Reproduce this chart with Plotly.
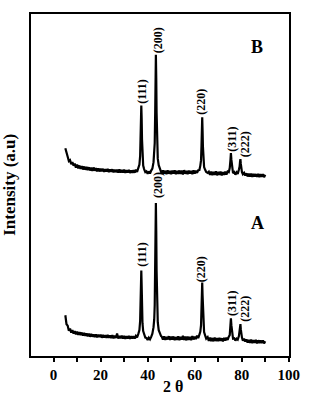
import plotly.graph_objects as go

# 2-theta grid (degrees)
two_theta = [
    5.0, 5.5, 6.0, 6.5, 7.0, 7.5, 8.0, 8.5, 9.0, 9.5,
    10.0, 10.5, 11.0, 11.5, 12.0, 12.5, 13.0, 13.5, 14.0, 14.5,
    15.0, 15.5, 16.0, 16.5, 17.0, 17.5, 18.0, 18.5, 19.0, 19.5,
    20.0, 20.5, 21.0, 21.5, 22.0, 22.5, 23.0, 23.5, 24.0, 24.5,
    25.0, 25.5, 26.0, 26.5, 27.0, 27.5, 28.0, 28.5, 29.0, 29.5,
    30.0, 30.5, 31.0, 31.5, 32.0, 32.5, 33.0, 33.5, 34.0, 34.5,
    35.0, 35.5,
    36.0, 36.5, 36.8, 37.0, 37.15, 37.3, 37.45, 37.6, 37.8, 38.1,
    38.5, 39.0, 39.5, 40.0, 40.5, 41.0, 41.5, 42.0, 42.5, 42.8,
    43.0, 43.2, 43.35, 43.5, 43.65, 43.8, 44.0, 44.3, 44.7, 45.2, 45.7,
    46.0, 46.5, 47.0, 47.5, 48.0, 48.5, 49.0, 49.5, 50.0, 50.5,
    51.0, 51.5, 52.0, 52.5, 53.0, 53.5, 54.0, 54.5, 55.0, 55.5,
    56.0, 56.5, 57.0, 57.5, 58.0, 58.5, 59.0, 59.5, 60.0, 60.5, 61.0,
    61.5, 62.0, 62.4, 62.7, 62.9, 63.05, 63.2, 63.35, 63.5, 63.7,
    64.0, 64.4, 64.9, 65.5,
    66.0, 66.5, 67.0, 67.5, 68.0, 68.5, 69.0, 69.5, 70.0, 70.5,
    71.0, 71.5, 72.0, 72.5, 73.0, 73.5, 74.0,
    74.5, 74.9, 75.2, 75.4, 75.6, 75.9, 76.3, 76.8, 77.3, 77.8,
    78.3, 78.8, 79.1, 79.3, 79.45, 79.6, 79.8, 80.1, 80.5, 81.0, 81.5,
    82.0, 82.5, 83.0, 83.5, 84.0, 84.5, 85.0, 85.5, 86.0, 86.5,
    87.0, 87.5, 88.0, 88.5, 89.0, 89.5, 90.0,
]

# Pattern A intensities (a.u.)
intensity_A = [
    41, 32, 30.5, 25.5, 27.5, 23.5, 26, 22.5, 25, 21.8,
    24.5, 21.2, 24, 21, 23.6, 20.5, 23.2, 20.2, 22.8, 19.9,
    22.5, 19.4, 22.2, 19.5, 21.6, 19.1, 21.8, 18.7, 21.4, 19,
    21.5, 18.4, 21.2, 18.6, 20.8, 18.2, 21.1, 18.3, 20.6, 18.1,
    20.9, 17.8, 20.4, 18.1, 22.5, 17.6, 20.2, 17.9, 20.4, 17.5,
    20.1, 17.4, 19.9, 17.6, 20.3, 17.2, 19.8, 17.5, 20, 17.6,
    20.2, 18.6,
    22, 26, 35, 52, 72, 86, 71, 50, 33, 25,
    21.5, 18.5, 18.2, 16, 18.4, 16.8, 19.2, 22.5, 29, 37,
    51, 85, 127, 154, 126, 86, 52, 34, 26, 22, 20,
    19.5, 16.4, 19.8, 16.2, 19.2, 16.6, 19.9, 16.1, 19.4, 16.5,
    19.6, 15.9, 19.1, 16.3, 19.7, 16, 19.3, 16.4, 20.2, 16.1,
    19.4, 15.8, 19.6, 16.3, 19.2, 16, 20, 16.6, 19.5, 17, 20.5,
    18, 21.5, 24.5, 31, 46, 62, 74, 61, 45, 31,
    24, 21, 17.5, 19,
    15.2, 18.4, 15, 18.1, 14.8, 18.5, 15.1, 17.9, 14.9, 18.2,
    15.3, 17.8, 14.7, 18.3, 15.5, 18.4, 16.2,
    19.5, 21, 31, 38, 31, 22, 17.5, 17.8, 15.5, 17.5,
    16.5, 20, 24, 30, 32, 27, 21, 18.5, 15.5, 17.4, 14.5,
    16.6, 13.4, 16.2, 13.2, 16.4, 13, 15.9, 13.3, 16.1, 12.8,
    15.8, 13.1, 15.6, 12.9, 15.7, 12.7, 14.8,
]

# Pattern B intensities (a.u.), plotted with a vertical offset
intensity_B = [
    42, 36, 33.5, 29, 30, 26, 28, 24.5, 26.5, 22.5,
    25.5, 21.8, 24.6, 21.2, 24, 20.6, 23.6, 20.4, 23.1, 20,
    22.8, 19.6, 22.4, 19.2, 22.6, 19.4, 21.9, 18.8, 21.8, 18.6,
    21.5, 18.9, 21.3, 18.3, 20.9, 18.5, 21.2, 18, 20.7, 18.2,
    20.8, 17.7, 20.5, 17.9, 20.3, 17.5, 20.6, 17.4, 20.1, 17.6,
    20.4, 17.2, 19.9, 17.5, 20.2, 17.1, 19.7, 17.3, 20, 17.4,
    20.5, 18.2,
    21.8, 25.5, 34, 51, 70, 85, 72, 51, 34, 24.5,
    21, 18, 18.8, 16.2, 18.7, 16.6, 19.5, 21.5, 28, 35,
    47, 77, 112, 136, 113, 78, 48, 31.5, 25, 21, 19.5,
    16.2, 19.6, 16.5, 19.3, 15.9, 19.8, 16.3, 19.1, 16, 19.5,
    16.4, 19.7, 15.8, 19.2, 16.2, 19.6, 16.1, 19.4, 15.7, 19.9,
    16.3, 19.1, 16, 19.5, 16.4, 19.2, 15.9, 19.8, 16.5, 19.3, 17.2,
    19.8, 20, 24.5, 30, 45, 60, 73, 60, 44, 30,
    23, 20.5, 18, 17.2,
    18.3, 15.1, 18.6, 14.9, 18.2, 15.2, 18.7, 14.8, 18.1, 15.3,
    18.4, 14.7, 18, 15.2, 18.5, 15.4, 18.6,
    18, 22, 30, 37, 30.5, 22.5, 17, 18, 15.4, 17.8,
    16.2, 20.5, 23.5, 29, 31, 26.5, 21.5, 18, 15.8, 17.2, 14.6,
    16.8, 13.6, 16.4, 13.4, 16.5, 13.1, 16.2, 13.5, 16, 13.2,
    16.3, 13, 15.9, 13.3, 15.8, 12.9, 15.2,
]

# Peak labels (Miller indices) and their 2-theta positions
peak_labels = ["(111)", "(200)", "(220)", "(311)", "(222)"]
label_x = [37.5, 44.4, 62.8, 75.9, 81.4]
label_y_A = [102.5, 172, 87.5, 52.5, 47.5]
label_y_B = [266.5, 317.5, 256, 217.5, 213]
pattern_names = ["A", "B"]

OFFSET_B = 167
assert len(two_theta) == len(intensity_A) == len(intensity_B)

SERIF = "Liberation Serif, Times New Roman, serif"

fig = go.Figure()
fig.add_trace(go.Scatter(x=two_theta, y=intensity_A, mode="lines",
                         line=dict(color="black", width=2.2), showlegend=False))
fig.add_trace(go.Scatter(x=two_theta, y=[v + OFFSET_B for v in intensity_B], mode="lines",
                         line=dict(color="black", width=2.2), showlegend=False))

annotations = []
for lab, lx, ya, yb in zip(peak_labels, label_x, label_y_A, label_y_B):
    for yy in (ya, yb):
        annotations.append(dict(x=lx, y=yy, xref="x", yref="y", text="<b>" + lab + "</b>",
                                showarrow=False, textangle=-90,
                                xanchor="center", yanchor="middle",
                                font=dict(family=SERIF, size=12, color="black")))
annotations.append(dict(x=86.6, y=134, xref="x", yref="y", text="<b>" + pattern_names[0] + "</b>",
                        showarrow=False, xanchor="center", yanchor="middle",
                        font=dict(family=SERIF, size=18, color="black")))
annotations.append(dict(x=86.6, y=311, xref="x", yref="y", text="<b>" + pattern_names[1] + "</b>",
                        showarrow=False, xanchor="center", yanchor="middle",
                        font=dict(family=SERIF, size=18, color="black")))
# axis titles
annotations.append(dict(x=0.55, y=-0.088, xref="paper", yref="paper", text="<b>2 θ</b>",
                        showarrow=False, xanchor="center", yanchor="middle",
                        font=dict(family=SERIF, size=16, color="black")))
annotations.append(dict(x=-0.086, y=0.5, xref="paper", yref="paper", text="<b>Intensity (a.u)</b>",
                        showarrow=False, textangle=-90, xanchor="center", yanchor="middle",
                        font=dict(family=SERIF, size=17, color="black")))

fig.update_layout(
    width=312, height=398,
    margin=dict(l=31, r=14, t=12, b=42),
    paper_bgcolor="white", plot_bgcolor="white",
    annotations=annotations,
    xaxis=dict(range=[-9.6, 100.1], tick0=0, dtick=20, ticks="outside", ticklen=4,
               tickwidth=1.5, tickcolor="black", showline=True, linewidth=2,
               linecolor="black", mirror=True, showgrid=False, zeroline=False,
               tickfont=dict(family=SERIF, size=15, color="black", weight="bold"),
               minor=dict(dtick=10, tick0=0, ticks="outside", ticklen=4,
                          tickwidth=1.5, tickcolor="black", showgrid=False)),
    yaxis=dict(range=[0, 344], showticklabels=False, ticks="", showline=True,
               linewidth=2, linecolor="black", mirror=True, showgrid=False,
               zeroline=False),
)

fig.write_html("out.html")
